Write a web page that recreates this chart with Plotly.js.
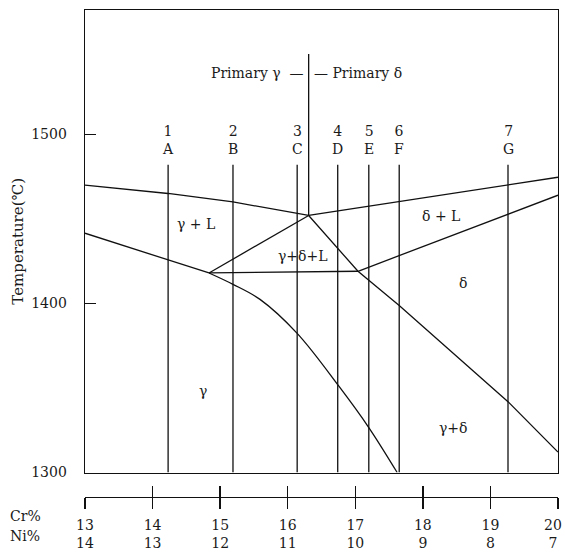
<!DOCTYPE html>
<html><head><meta charset="utf-8">
<script src="https://cdn.plot.ly/plotly-3.0.1.min.js"></script>
<style>body{margin:0;background:#fff}</style>
</head><body><div id="chart" style="width:565px;height:554px"></div>
<script>
// Axis ticks
const crTicks = [13,14,15,16,17,18,19,20];
const niTicks = [14,13,12,11,10,9,8,7];
const yTicks = [1300,1400,1500];

// Alloy section lines
const alloyNums = ['1','2','3','4','5','6','7'];
const alloyLetters = ['A','B','C','D','E','F','G'];
const alloyCr = [14.23,15.19,16.14,16.74,17.2,17.65,19.26];
const alloyTopT = 1482;

// Phase boundaries (Cr %, Temperature °C)
const liqLeftCr = [13,14.23,15.19,16.31];
const liqLeftT  = [1470,1465,1460,1452];
const liqRightCr = [16.31,20];
const liqRightT  = [1452,1474.6];
const gSolidusCr = [13,14.835];
const gSolidusT  = [1441.5,1418];
const gSolvusCr = [14.835,15.19,15.59,16.14,16.76,17.2,17.62];
const gSolvusT  = [1418,1411.3,1402.4,1382.3,1350.9,1326.6,1300];
const isoCr = [14.835,17.04];
const isoT  = [1418,1419];
const peakLeftCr = [14.835,16.31];
const peakLeftT  = [1418,1452];
const peakRightCr = [16.31,17.04,17.65,19.26,20];
const peakRightT  = [1452,1419,1398.8,1341.9,1312.1];
const dSolidusCr = [17.04,20];
const dSolidusT  = [1419,1464];
const dividerCr = [16.31,16.31];
const dividerT  = [1452,1547.5];

// Region labels
const regionText = ['γ + L','γ+δ+L','δ + L','δ','γ','γ+δ'];
const regionCr   = [14.64,16.23,18.27,18.59,14.75,18.46];
const regionT    = [1447,1428,1451.6,1412,1348,1326.5];

const lineStyle = {color:'#111', width:1.3};
const traces = [];
function addLine(x,y,spline){ traces.push({type:'scatter',mode:'lines',x:x,y:y,line:Object.assign({},lineStyle,spline?{shape:'spline',smoothing:1}:{}),hoverinfo:'skip',showlegend:false}); }
addLine(liqLeftCr,liqLeftT);
addLine(liqRightCr,liqRightT);
addLine(gSolidusCr,gSolidusT);
addLine(gSolvusCr,gSolvusT,true);
addLine(isoCr,isoT);
addLine(peakLeftCr,peakLeftT);
addLine(peakRightCr,peakRightT);
addLine(dSolidusCr,dSolidusT);
addLine(dividerCr,dividerT);
const vx=[],vy=[];
alloyCr.forEach(c=>{vx.push(c,c,null);vy.push(alloyTopT,1300,null);});
addLine(vx,vy);
// invisible traces to attach the lower composition axes
['x2','x3','x4'].forEach(ax=>traces.push({type:'scatter',mode:'markers',x:crTicks,y:crTicks.map(()=>1350),xaxis:ax,marker:{opacity:0},hoverinfo:'skip',showlegend:false}));

const FAM = 'DejaVu Serif, Liberation Serif, serif';
const font = {family:FAM, size:14, color:'#1a1a1a'};
const annotations = [];
alloyCr.forEach((c,i)=>annotations.push({x:c,y:1496.5,xref:'x',yref:'y',text:alloyNums[i]+'<br>'+alloyLetters[i],showarrow:false,font:font,xanchor:'center',yanchor:'middle'}));
regionText.forEach((t,i)=>annotations.push({x:regionCr[i],y:regionT[i],xref:'x',yref:'y',text:t,showarrow:false,font:font}));
annotations.push({x:dividerCr[0],y:1536.4,xref:'x',yref:'y',text:'Primary γ  —',showarrow:false,font:font,xanchor:'right',xshift:-3});
annotations.push({x:dividerCr[0],y:1536.4,xref:'x',yref:'y',text:'— Primary δ',showarrow:false,font:font,xanchor:'left',xshift:3});
annotations.push({x:-0.163,y:0.043,xref:'paper',yref:'paper',text:'Cr%',showarrow:false,font:font,xanchor:'left'});
annotations.push({x:-0.163,y:0.006,xref:'paper',yref:'paper',text:'Ni%',showarrow:false,font:font,xanchor:'left'});

// lower axis labels: Cr% row over Ni% row
const lowerText = crTicks.map((c,i)=> c+'<br>'+niTicks[i]);
const last = crTicks.length-1;

const axisBase = {showgrid:false,zeroline:false,showline:true,linecolor:'#111',linewidth:1.4};
const lowerBase = {range:[13,20],overlaying:'x',anchor:'free',position:0.0965,side:'bottom',showgrid:false,zeroline:false};
const layout = {
  width:565,height:554,
  margin:{l:85,r:7,t:10,b:5},
  paper_bgcolor:'#fff',plot_bgcolor:'#fff',
  showlegend:false,
  font:font,
  xaxis:Object.assign({},axisBase,{range:[13,20],mirror:true,ticks:'',showticklabels:false}),
  yaxis:Object.assign({},axisBase,{range:[1300,1573.5],domain:[0.1419,1],mirror:true,ticks:'inside',ticklen:11,tickwidth:1.4,tickcolor:'#111',
    tickvals:yTicks,ticktext:yTicks.map(String),ticklabelstandoff:14,
    title:{text:'Temperature(℃)',font:{family:FAM,size:15,color:'#1a1a1a'},standoff:4}}),
  // line + downward ticks + labels for 13..19
  xaxis2:Object.assign({},lowerBase,{showline:true,linecolor:'#111',linewidth:1.4,
    ticks:'outside',ticklen:11,tickwidth:1.4,tickcolor:'#111',tickvals:crTicks,
    ticktext:lowerText.map((t,i)=>i===last?'':t),ticklabelstandoff:4}),
  // upward ticks
  xaxis3:Object.assign({},lowerBase,{showline:false,
    ticks:'inside',ticklen:11,tickwidth:1.4,tickcolor:'#111',tickvals:crTicks,showticklabels:false}),
  // label of the last tick, nudged left to stay inside the page
  xaxis4:Object.assign({},lowerBase,{showline:false,
    ticks:'outside',ticklen:11,tickwidth:1,tickcolor:'rgba(0,0,0,0)',tickvals:[crTicks[last]],
    ticktext:[lowerText[last]],ticklabelstandoff:4,ticklabelshift:-5,ticklabeloverflow:'allow'}),
  annotations:annotations
};
Plotly.newPlot('chart',traces,layout,{displayModeBar:false,staticPlot:true});
</script>
</body></html>
